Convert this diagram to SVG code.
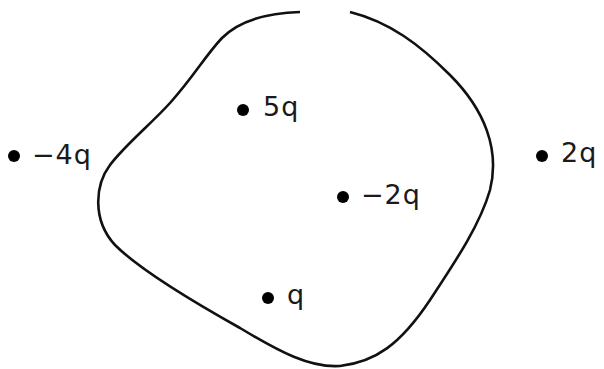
<svg xmlns="http://www.w3.org/2000/svg" width="604" height="369" viewBox="0 0 604 369">
<style>
.surf{fill:none;stroke:#111;stroke-width:2.6;stroke-linecap:butt}
.dot{fill:#000}
.lbl{font-family:"DejaVu Sans",sans-serif;font-size:27px;letter-spacing:1px;fill:#1a1a1a}
</style>
<rect width="604" height="369" fill="#fff"/>
<g id="surface">
<path class="surf" d="M300,12 C268,13 240,20 222,38 C205,56 195,75 170,103 C150,125 125,145 110,165 C95,185 92,220 115,245 C140,270 190,300 240,328 C280,352 310,368 340,366 C375,362 400,345 430,300 C455,262 480,225 490,190 C500,150 485,110 450,75 C420,45 390,22 350,12"/>
</g>
<g id="charge-m4q"><circle class="dot" cx="14" cy="156" r="6"/><text class="lbl" x="32" y="164">−4q</text></g>
<g id="charge-5q"><circle class="dot" cx="243" cy="110" r="6"/><text class="lbl" x="263" y="116">5q</text></g>
<g id="charge-m2q"><circle class="dot" cx="343" cy="197" r="6"/><text class="lbl" x="361" y="204">−2q</text></g>
<g id="charge-q"><circle class="dot" cx="268" cy="298" r="6"/><text class="lbl" x="287" y="304">q</text></g>
<g id="charge-2q"><circle class="dot" cx="542" cy="156" r="6"/><text class="lbl" x="561" y="162">2q</text></g>
</svg>
